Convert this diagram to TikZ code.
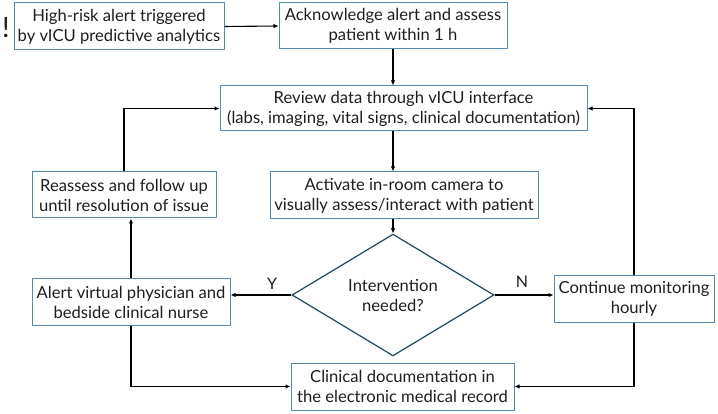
\documentclass[tikz,border=0pt]{standalone}
\usepackage{fontspec}
\setmainfont{Lato}
\usetikzlibrary{shapes.geometric,arrows.meta}
\definecolor{boxblue}{RGB}{84,140,176}
\definecolor{diamondc}{RGB}{32,72,92}
\definecolor{txt}{RGB}{30,30,30}
\begin{document}
\begin{tikzpicture}[x=1pt,y=-1pt,
  every node/.style={font=\fontsize{16.6}{20}\selectfont, text=txt, align=center},
  box/.style={draw=boxblue, line width=1pt, rectangle, inner sep=0pt},
  dec/.style={draw=diamondc, line width=1.2pt, diamond, inner sep=0pt, minimum width=202pt, minimum height=74pt},
  arr/.style={draw=black, line width=1.1pt, -{Latex[length=5pt,width=4.5pt]}},
  lbl/.style={font=\fontsize{16}{17}\selectfont}]
\useasboundingbox (0,0) rectangle (718,414);
\node[font=\fontsize{28}{28}\selectfont, inner sep=0pt] (bang) at (6,27.5) {!};
\node[box, minimum width=210pt, minimum height=47pt] (trig) at (119,26.5) {High-risk alert triggered\\by vICU predictive analytics};
\node[box, minimum width=228pt, minimum height=46pt] (ack) at (393,26) {Acknowledge alert and assess\\patient within 1 h};
\node[box, minimum width=367pt, minimum height=45pt] (rev) at (403.5,108.5) {Review data through vICU interface\\(labs, imaging, vital signs, clinical documentation)};
\node[box, minimum width=184pt, minimum height=46pt] (reas) at (124,195) {Reassess and follow up\\until resolution of issue};
\node[box, minimum width=268pt, minimum height=47pt] (act) at (404,195.5) {Activate in-room camera to\\visually assess/interact with patient};
\node[dec] (dia) at (393,295) {Intervention\\needed?};
\node[box, minimum width=198pt, minimum height=46pt] (alert) at (131,302) {Alert virtual physician and\\bedside clinical nurse};
\node[box, minimum width=160pt, minimum height=46pt] (cont) at (634,299) {Continue monitoring\\hourly};
\node[box, minimum width=223pt, minimum height=47pt] (clin) at (402.5,386.5) {Clinical documentation in\\the electronic medical record};
\node[lbl] (ylab) at (272,284) {Y};
\node[lbl] (nlab) at (522,282) {N};
\draw[arr] (trig.east) -- (ack.west);
\draw[arr] (ack.south) -- (ack.south |- rev.north);
\draw[arr] (rev.south -| dia.north) -- (act.north -| dia.north);
\draw[arr] (act.south -| dia.north) -- (dia.north);
\draw[arr] (dia.west) -- (alert.east |- dia.west);
\draw[arr] (dia.east) -- (cont.west |- dia.east);
\draw[arr] (alert.north) -- (alert.north |- reas.south);
\draw[arr] (reas.north) |- (rev.west);
\draw[arr] (cont.north) |- (rev.east);
\draw[arr] (alert.south) |- (clin.west);
\draw[arr] (cont.south) |- (clin.east);
\end{tikzpicture}
\end{document}
